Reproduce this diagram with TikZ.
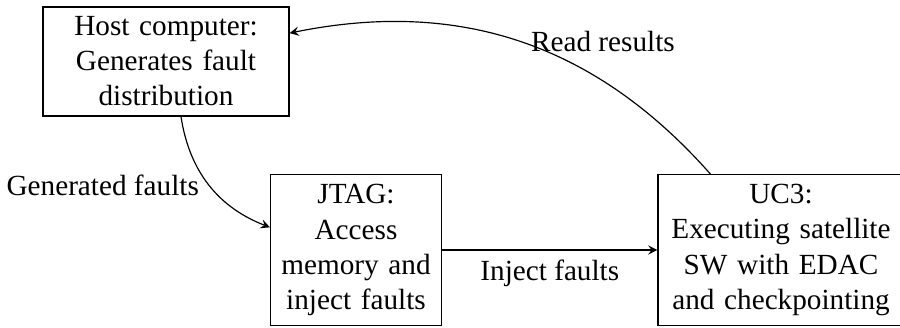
\documentclass[tikz,border=0pt]{standalone}
\usepackage{fontspec}
\setmainfont{Liberation Serif}
\begin{document}
\begin{tikzpicture}[x=0.34222pt, y=-0.34222pt,
  font=\fontsize{10pt}{12pt}\selectfont,
  block/.style={draw, align=center, inner sep=3.333pt},
  widebox/.style={block, text width=77.5pt},
  narrowbox/.style={block, text width=51.9pt},
  flow/.style={-stealth, line width=0.4pt}]
  % picture frame (the lower and right box edges run past it)
  \useasboundingbox (0,0) rectangle (900,327);
  \clip (0,0) rectangle (900,327);

  \node[widebox] (host) at (166,61.5) {Host computer:\\ Generates fault\\ distribution};
  \node[narrowbox] (jtag) at (356,250) {JTAG:\\ Access\\ memory and\\ inject faults};
  \node[widebox] (uc3) at (781,250) {UC3:\\ Executing satellite\\ SW with EDAC\\ and checkpointing};

  \draw[flow] (host) to[bend right] node[midway, left] {Generated faults} (jtag);
  \draw[flow] (jtag) -- node[midway, below] {Inject faults} (uc3);
  \draw[flow] (uc3) to[bend right] node[midway, right] {Read results} (host);
\end{tikzpicture}
\end{document}
